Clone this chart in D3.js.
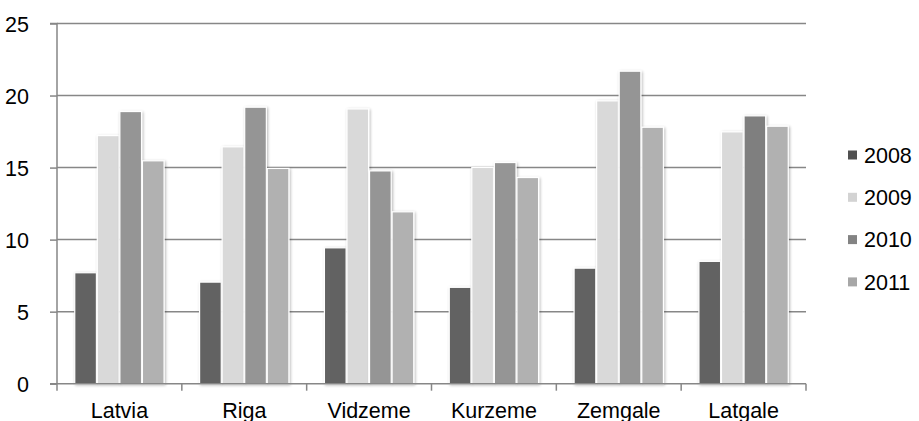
<!DOCTYPE html>
<html><head><meta charset="utf-8">
<script src="https://cdn.jsdelivr.net/npm/d3@7"></script>
<style>body{margin:0;background:#fff}svg{display:block}text{font-family:"Liberation Sans",Arial,sans-serif;fill:#000}</style>
</head><body>
<svg id="c" width="919" height="421"></svg>
<script>
const categories = ["Latvia","Riga","Vidzeme","Kurzeme","Zemgale","Latgale"];
const seriesNames = ["2008","2009","2010","2011"];
const v2008 = [7.7, 7.05, 9.43, 6.69, 8.02, 8.49];
const v2009 = [17.22, 16.44, 19.07, 15.01, 19.63, 17.48];
const v2010 = [18.89, 19.19, 14.77, 15.35, 21.69, 18.59];
const v2011 = [15.47, 14.94, 11.93, 14.31, 17.8, 17.87];
const yTicks = [0,5,10,15,20,25];
const colors = ["#626262","#d9d9d9","#959595","#b1b1b1"];
const legendColors = ["#505050","#d3d3d3","#838383","#a7a7a7"];

const series = [v2008, v2009, v2010, v2011];
const svg = d3.select("#c");
const L = 57, R = 806, T = 23.5, B = 383.7;
const FS = "21.5px";

const x = d3.scaleBand().domain(categories).range([L, R]).paddingInner(0.27).paddingOuter(0.135);
const x1 = d3.scaleBand().domain(seriesNames).range([0, x.bandwidth()]).padding(0.04);
const y = d3.scaleLinear().domain([0, 25]).range([B, T]);

// shadow filter
const defs = svg.append("defs");
const f = defs.append("filter").attr("id","sh").attr("x","-30%").attr("y","-10%").attr("width","160%").attr("height","120%");
f.append("feGaussianBlur").attr("in","SourceAlpha").attr("stdDeviation",1.6).attr("result","b");
f.append("feOffset").attr("in","b").attr("dx",0.5).attr("dy",0.5).attr("result","o");
f.append("feComponentTransfer").attr("in","o").attr("result","o2").append("feFuncA").attr("type","linear").attr("slope",0.3);
const m = f.append("feMerge"); m.append("feMergeNode").attr("in","o2"); m.append("feMergeNode").attr("in","SourceGraphic");

// gridlines
const yAxis = d3.axisLeft(y).tickValues(yTicks).tickSize(7).tickPadding(21);
svg.append("g").selectAll("line").data(yTicks.filter(d=>d>0)).join("line")
  .attr("x1", L).attr("x2", R).attr("y1", d=>y(d)).attr("y2", d=>y(d))
  .attr("stroke","#878787").attr("stroke-width",1.5);

// bars
const g = svg.append("g");
categories.forEach((c, i) => {
  seriesNames.forEach((s, j) => {
    let col = colors[j];
    if (c === "Latgale" && s === "2010") col = "#7f7f7f";
    g.append("rect")
      .attr("x", x(c) + x1(s)).attr("width", x1.bandwidth())
      .attr("y", y(series[j][i])).attr("height", B - y(series[j][i]))
      .attr("fill", col).attr("stroke","#fff").attr("stroke-width",1.2)
      .attr("filter","url(#sh)");
  });
});

// y axis
const ya = svg.append("g").attr("transform",`translate(${L},0)`).call(yAxis);
ya.attr("font-size", FS).attr("font-family", null);
ya.select(".domain").attr("stroke","#878787").attr("stroke-width",1.5).attr("d",`M-7,${T}H0V${B}`);
ya.selectAll(".tick line").attr("stroke","#878787").attr("stroke-width",1.5);
ya.selectAll(".tick text").style("font-size", FS).attr("fill","#000").attr("dy","0.36em");

// x axis
const xa = svg.append("g").attr("transform",`translate(0,${B})`);
xa.append("line").attr("x1", L-7).attr("x2", R).attr("stroke","#878787").attr("stroke-width",1.5);
const bounds = categories.map(c => x(c) - x.step()*x.paddingInner()/2);
bounds.push(R);
xa.selectAll("line.t").data(bounds).join("line").attr("class","t")
  .attr("x1", d=>d).attr("x2", d=>d).attr("y1",0).attr("y2",7)
  .attr("stroke","#878787").attr("stroke-width",1.5);
xa.selectAll("text").data(categories).join("text")
  .attr("x", d => x(d) + x.bandwidth()/2).attr("y", 34.5)
  .attr("text-anchor","middle").style("font-size", FS).text(d=>d);

// legend
const lg = svg.append("g").attr("transform","translate(848,155)");
seriesNames.forEach((s, j) => {
  const gy = j * 42.3;
  lg.append("rect").attr("x",0).attr("y",gy-4.5).attr("width",9).attr("height",9).attr("fill",legendColors[j]);
  lg.append("text").attr("x",16).attr("y",gy).attr("dy","0.36em").style("font-size", FS).text(s);
});
</script>
</body></html>
